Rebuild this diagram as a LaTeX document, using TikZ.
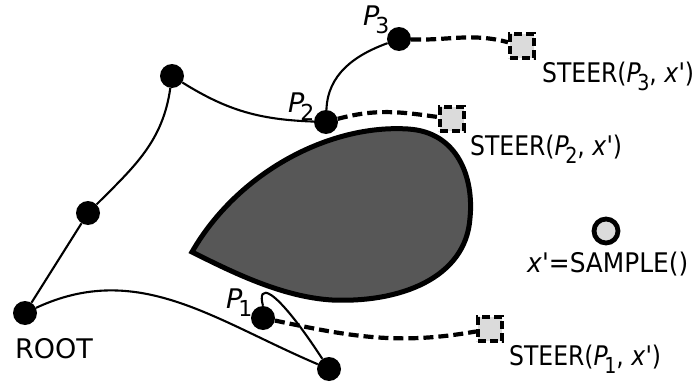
\documentclass[tikz,border=0pt]{standalone}
\usepackage{fontspec}
\setmainfont{DejaVu Sans}
\newcommand\Psub[1]{\textit{P}\kern-4pt\raisebox{-8pt}{\fontsize{22}{22}\selectfont #1}}
\newcommand\xp{\textit{x}\textquotesingle}
\begin{document}
\begin{tikzpicture}[x=1pt,y=1pt,
  vert/.style={circle, fill=black, minimum size=24pt, inner sep=0pt},
  edge/.style={line width=2.1pt},
  steerline/.style={line width=4.2pt, dash pattern=on 10pt off 5pt},
  newbox/.style={draw, fill=black!14, line width=4pt, dash pattern=on 8pt off 4pt, minimum size=24pt, inner sep=0pt},
  samp/.style={circle, draw, fill=black!14, line width=4.8pt, minimum size=24pt, inner sep=0pt},
  lbl/.style={inner sep=0pt, anchor=base west, font=\fontsize{27}{31}\selectfont},
  obst/.style={fill=black!66, draw=black, line width=5pt, line join=miter}
]
\useasboundingbox (0,0) rectangle (697,-388);

% obstacle
\filldraw[obst] (192,-252) .. controls (238,-172) and (330,-124) .. (408,-129)
  .. controls (458,-132) and (474,-178) .. (470,-218)
  .. controls (466,-278) and (400,-303) .. (332,-300)
  .. controls (282,-297) and (232,-272) .. cycle;

% vertices
\node[vert] (root) at (25,-313) {};
\node[vert] (a) at (88,-213) {};
\node[vert] (b) at (172,-76) {};
\node[vert] (p2) at (326,-122) {};
\node[vert] (p3) at (399,-39) {};
\node[vert] (p1) at (263,-318) {};
\node[vert] (bot) at (329,-369) {};

% new (steered) boxes and sample
\node[newbox] (b3) at (522,-46) {};
\node[newbox] (b2) at (452,-119) {};
\node[newbox] (b1) at (490,-329) {};
\node[samp] (s) at (606,-231) {};

% tree edges
\draw[edge] (root) -- (a);
\draw[edge] (a) to[out=45, in=-98] (b);
\draw[edge] (b) to[out=-32, in=178] (p2);
\draw[edge] (p2) to[out=88, in=200] (p3);
\draw[edge] (root) to[out=25, in=157] (bot);
\draw[edge] (p1.north) .. controls (257,-284) and (272,-282) .. (bot);

% steer edges
\draw[steerline] (p3) to[out=-2, in=165] (b3);
\draw[steerline] (p2) to[out=15, in=172] (b2);
\draw[steerline] (p1) to[out=-12, in=190] (b1);

% labels
\node[lbl] (lroot) at (15,-358) {ROOT};
\node[lbl] (lp1) at (226,-308) {\Psub{1}};
\node[lbl] (lp2) at (288,-112) {\Psub{2}};
\node[lbl] (lp3) at (363,-25) {\Psub{3}};
\node[lbl] (ls3) at (542,-82) {\scalebox{0.87}[1]{STEER(\Psub{3}, \xp)}};
\node[lbl] (ls2) at (470,-155) {\scalebox{0.87}[1]{STEER(\Psub{2}, \xp)}};
\node[lbl] (ls1) at (509,-365) {\scalebox{0.87}[1]{STEER(\Psub{1}, \xp)}};
\node[lbl] (lsamp) at (527,-272) {\scalebox{0.92}[1]{\xp=SAMPLE()}};
\end{tikzpicture}
\end{document}
